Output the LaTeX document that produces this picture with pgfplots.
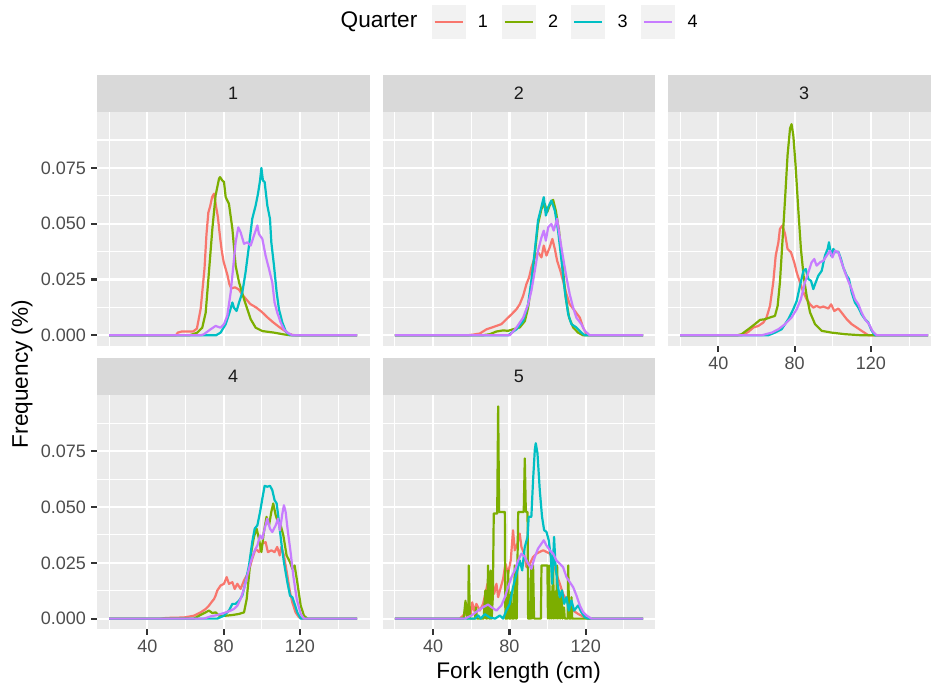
\documentclass[border=0pt]{standalone}
\usepackage{fontspec}
\setmainfont{Liberation Sans}
\usepackage{pgfplots}
\pgfplotsset{compat=1.18}
\definecolor{qa}{HTML}{F8766D}
\definecolor{qb}{HTML}{7CAE00}
\definecolor{qc}{HTML}{00BFC4}
\definecolor{qd}{HTML}{C77CFF}
\definecolor{panelbg}{HTML}{EBEBEB}
\definecolor{stripbg}{HTML}{D9D9D9}
\definecolor{keybg}{HTML}{F2F2F2}
\definecolor{ticklab}{HTML}{4D4D4D}
\definecolor{tickcol}{HTML}{333333}
\definecolor{striptext}{HTML}{1A1A1A}
\pgfplotsset{
  panel/.style={
    scale only axis, width=136.45pt, height=117.15pt,
    xmin=13.5, xmax=156.5, ymin=-0.0048, ymax=0.1002,
    axis background/.style={fill=panelbg},
    axis line style={draw=none},
    xtick={40,80,120}, minor xtick={20,60,100,140},
    ytick={0,0.025,0.05,0.075}, minor ytick={0.0125,0.0375,0.0625,0.0875},
    xticklabels={40,80,120},
    yticklabels={0.000,0.025,0.050,0.075},
    xtick pos=left, ytick pos=left,
    grid=both,
    major grid style={white, line width=1.1pt},
    minor grid style={white, line width=0.55pt},
    tick align=outside,
    major tick length=2.8pt, minor tick length=0pt,
    tick style={tickcol, line width=1.1pt},
    ticklabel style={font=\fontsize{9}{10}\selectfont, text=ticklab, inner sep=0pt},
    xticklabel shift=2.4pt, yticklabel shift=2.4pt,
    /pgf/number format/assume math mode=true,
    every axis plot/.append style={line width=1.1pt, line join=round, mark=none},
    anchor=north west,
  },
  noxaxis/.style={xticklabels={}, xtick style={draw=none}},
  noyaxis/.style={yticklabels={}, ytick style={draw=none}},
}
\newcommand{\strip}[3]{%
  \fill[stripbg] (#1pt,-#2pt) rectangle ++(136.45pt,18.6pt);
  \node[text=striptext, font=\fontsize{9}{10}\selectfont, inner sep=0pt] at (#1pt+68.225pt,-#2pt+9.3pt) {#3};
}
\begin{document}
\begin{tikzpicture}
\path[use as bounding box, fill=white] (0,0) rectangle (465.5pt,-343.5pt);
% legend
\node[font=\fontsize{11.3}{12}\selectfont, inner sep=0pt] at (189.5pt,-10.85pt) {Quarter};
\foreach \kx/\col/\lab in {215.85/qa/1,250.9/qb/2,285.65/qc/3,320.65/qd/4}{
  \fill[keybg] (\kx pt,-2.5pt) rectangle ++(17pt,-17pt);
  \draw[\col, line width=1.1pt] (\kx pt+1.5pt,-10.85pt) -- ++(14pt,0);
  \node[font=\fontsize{9}{10}\selectfont, inner sep=0pt] at (\kx pt+25.6pt,-10.85pt) {\lab};
}
% strips
\strip{48.35}{55.85}{1}
\strip{191.25}{55.85}{2}
\strip{333.85}{55.85}{3}
\strip{48.35}{197.5}{4}
\strip{191.25}{197.5}{5}
% axis titles
\node[rotate=90, font=\fontsize{11.3}{12}\selectfont, inner sep=0pt] at (11pt,-187pt) {Frequency (\%)};
\node[font=\fontsize{11.3}{12}\selectfont, inner sep=0pt] at (259.3pt,-336.5pt) {Fork length (cm)};

% ---------- Panel 1 ----------
\begin{axis}[panel, noxaxis, at={(48.35pt,-55.85pt)}]
\addplot[qa] coordinates {(20,0)(55,0)(56,0.0012)(58,0.0017)(64,0.0017)(66,0.003)(68,0.012)(70,0.03)(71,0.045)(72,0.055)(73,0.058)(74,0.062)(75,0.0635)(76,0.058)(77,0.053)(78,0.045)(79,0.038)(80,0.033)(82,0.027)(83,0.023)(84,0.021)(86,0.0215)(88,0.0205)(90,0.018)(92,0.016)(94,0.014)(97,0.0125)(100,0.0105)(103,0.008)(106,0.0058)(109,0.0038)(112,0.002)(114,0.0008)(116,0.0002)(118,0)(150,0)};
\addplot[qb] coordinates {(20,0)(62,0)(64,0.0005)(66.2,0.0012)(68.8,0.0034)(70.6,0.0101)(72.3,0.0282)(74.1,0.0477)(75.8,0.0627)(77.6,0.0702)(78.1,0.0709)(79.3,0.0694)(80.2,0.0687)(81.1,0.0619)(82.8,0.0589)(84.6,0.0477)(86.3,0.0312)(88.1,0.0237)(90.7,0.0162)(94.2,0.0072)(96.8,0.0034)(100.3,0.0019)(106.4,0.0012)(111.6,0.0004)(115,0)(150,0)};
\addplot[qc] coordinates {(20,0)(76,0)(78.4,0.0012)(81.1,0.005)(82.8,0.0094)(84.6,0.0147)(85.4,0.0124)(86.8,0.0109)(88.1,0.0147)(89.8,0.0192)(91.5,0.0282)(93.3,0.0402)(95,0.0522)(96.8,0.0582)(98,0.0634)(99.1,0.0694)(99.8,0.075)(100.6,0.0694)(101.5,0.0687)(102.9,0.0582)(104.3,0.0522)(105,0.0417)(106.4,0.0312)(107.8,0.0192)(109,0.0117)(110.8,0.0057)(112.5,0.0019)(114.2,0.0004)(116,0)(150,0)};
\addplot[qd] coordinates {(20,0)(68,0)(69.7,0.0005)(73.2,0.0027)(75.8,0.0042)(78.4,0.0034)(80.2,0.005)(81.9,0.0087)(83.7,0.0192)(85.1,0.0312)(86.3,0.0417)(87.7,0.0484)(88.9,0.0462)(90.7,0.041)(92.4,0.0417)(94.2,0.0402)(95.9,0.0447)(97.7,0.0492)(98.5,0.0454)(100.3,0.0432)(102,0.0357)(103.8,0.0297)(105.5,0.0237)(106.7,0.0147)(108.1,0.0102)(109.9,0.0057)(111.6,0.0027)(113.4,0.0012)(116,0)(150,0)};
\end{axis}

% ---------- Panel 2 ----------
\begin{axis}[panel, noxaxis, noyaxis, at={(191.25pt,-55.85pt)}]
\addplot[qa] coordinates {(20,0)(58,0)(61,0.0003)(64.5,0.0008)(68,0.0027)(71.5,0.0037)(75.8,0.005)(78.4,0.0072)(81.1,0.0094)(83.7,0.0117)(85.4,0.0139)(87.2,0.0177)(88.9,0.0229)(90.3,0.0259)(91.5,0.0304)(93.3,0.0349)(95,0.0372)(96.8,0.0349)(98,0.0402)(99.4,0.0357)(101.1,0.0394)(102.5,0.0432)(103.8,0.0387)(105,0.0334)(106.7,0.0289)(108.1,0.0244)(109.9,0.0184)(111.6,0.0139)(114.3,0.0109)(116.9,0.0079)(118.6,0.0035)(120.4,0.0005)(122,0)(150,0)};
\addplot[qb] coordinates {(20,0)(66,0)(69.7,0.0005)(73.2,0.0017)(76.7,0.0022)(79.3,0.002)(81.9,0.0027)(85.4,0.0035)(88.1,0.0064)(89.8,0.0124)(91.5,0.0229)(93.3,0.0364)(95,0.0499)(96.8,0.0567)(98.5,0.0589)(99.8,0.0552)(101.1,0.0582)(102.9,0.0607)(104.3,0.0559)(106,0.0469)(107.8,0.0319)(109.5,0.0169)(111.3,0.0079)(113.4,0.0035)(116,0.0012)(118.6,0)(150,0)};
\addplot[qc] coordinates {(20,0)(79.3,0)(83.7,0.0027)(87.2,0.0064)(89.8,0.0139)(91.5,0.0245)(93.3,0.0379)(95,0.0514)(96.3,0.0559)(98,0.0619)(99.1,0.0537)(100.3,0.0574)(102,0.0604)(103.8,0.0559)(105.5,0.0469)(107.3,0.0334)(109,0.02)(110.8,0.0094)(112.5,0.005)(115.1,0.0035)(117.7,0.0012)(119.5,0)(150,0)};
\addplot[qd] coordinates {(20,0)(80.2,0)(83.7,0.0035)(87.2,0.0079)(89.8,0.0139)(91.5,0.0199)(93.3,0.0289)(95,0.0379)(96.8,0.0439)(98,0.0469)(99.1,0.0424)(100.3,0.0484)(102,0.0499)(103.2,0.0469)(105,0.0522)(106.4,0.0439)(108.1,0.0349)(109.9,0.0259)(111.6,0.0184)(113.4,0.0124)(115.1,0.0079)(117.7,0.005)(119.5,0.002)(122.1,0)(150,0)};
\end{axis}

% ---------- Panel 3 ----------
\begin{axis}[panel, noyaxis, at={(333.85pt,-55.85pt)}]
\addplot[qa] coordinates {(20,0)(52.2,0)(55.7,0.0015)(58.4,0.0035)(61,0.0042)(63.6,0.0057)(65.3,0.008)(67.1,0.0132)(68.8,0.0237)(70.1,0.0357)(71.5,0.0417)(72.3,0.0477)(73.6,0.0492)(75,0.0454)(76.3,0.0387)(78.1,0.0372)(79.8,0.0327)(81.1,0.0282)(82.8,0.0237)(84.6,0.0192)(86.3,0.0162)(88.1,0.0139)(89.8,0.0124)(91.5,0.0132)(93.3,0.0124)(95,0.0129)(97.7,0.012)(99.1,0.0139)(100.8,0.0109)(102.9,0.012)(104.6,0.0102)(107.3,0.0072)(109.9,0.005)(112.5,0.0035)(115.1,0.002)(117.8,0.0005)(118.6,0)(150,0)};
\addplot[qb] coordinates {(20,0)(50,0)(52.2,0.0005)(55.7,0.0027)(59.2,0.005)(61.85,0.0069)(64.5,0.0072)(67.1,0.008)(69.7,0.0087)(71.1,0.0132)(72.3,0.0237)(73.6,0.0417)(75,0.0612)(76.3,0.0807)(77.6,0.0927)(78.4,0.0946)(79.3,0.0897)(80.5,0.0762)(81.9,0.0567)(83.3,0.0387)(84.7,0.0267)(86.3,0.0177)(88.1,0.0102)(90.7,0.005)(94.2,0.002)(99.4,0.0012)(106.4,0.0005)(115.1,0)(150,0)};
\addplot[qc] coordinates {(20,0)(66.2,0)(69.7,0.0012)(73.2,0.0027)(76.7,0.0072)(79.3,0.0117)(81.1,0.0154)(82.8,0.0222)(84.6,0.0289)(85.8,0.0297)(87.2,0.0252)(88.6,0.0244)(89.8,0.0207)(90.7,0.0229)(92.4,0.0267)(94.2,0.0289)(95.9,0.0357)(97.3,0.0387)(98,0.0417)(99.1,0.0357)(100.3,0.0387)(101.5,0.0372)(102.9,0.0375)(104.3,0.0342)(105.5,0.0304)(107.3,0.0267)(108.5,0.0252)(109.9,0.0192)(111.6,0.0147)(113.4,0.0124)(115.1,0.0094)(116.9,0.0072)(118.6,0.0057)(120.4,0.002)(122.1,0)(150,0)};
\addplot[qd] coordinates {(20,0)(62.7,0)(68,0.0012)(71.5,0.0027)(75,0.005)(78.4,0.008)(81.1,0.0117)(83.3,0.0162)(85.4,0.0237)(87.2,0.0282)(88.9,0.0327)(90.3,0.0342)(91.5,0.0312)(93.3,0.0327)(95,0.0334)(96.8,0.0357)(98.5,0.0379)(99.8,0.0349)(101.2,0.0379)(102.9,0.0372)(104.6,0.0327)(106.4,0.0282)(108.1,0.0244)(109.9,0.0207)(111.6,0.0162)(113.4,0.0139)(115.1,0.0102)(116.9,0.0072)(119,0.005)(120.7,0.002)(123,0)(150,0)};
\end{axis}

% ---------- Panel 4 ----------
\begin{axis}[panel, at={(48.35pt,-197.5pt)}]
\addplot[qa] coordinates {(20,0)(47,0)(50,0.0003)(59.2,0.0005)(64.5,0.0013)(68,0.0028)(70.6,0.0043)(72.3,0.0058)(73.6,0.0073)(75,0.0088)(75.8,0.0103)(76.7,0.0126)(78.4,0.0148)(80.2,0.0156)(81.6,0.0186)(82.8,0.0156)(84.6,0.0163)(85.8,0.0133)(87.2,0.0156)(88.9,0.0133)(90.7,0.0171)(92.1,0.0193)(93.3,0.0216)(95,0.0268)(96.8,0.0313)(98.5,0.0298)(100.3,0.0336)(102,0.0343)(103.2,0.0298)(105,0.0306)(106.7,0.0298)(108.1,0.0321)(109.4,0.0283)(110.2,0.0321)(111.6,0.0283)(113.4,0.0193)(114.8,0.0118)(116,0.0073)(117.7,0.0028)(119.5,0.0006)(121,0)(150,0)};
\addplot[qb] coordinates {(20,0)(64.5,0)(68,0.0017)(70.6,0.0028)(72.3,0.0036)(74.1,0.0025)(75.8,0.0028)(77.6,0.0013)(81.1,0.0013)(84.6,0.0016)(88.1,0.0021)(90.7,0.0028)(92.1,0.0088)(93.3,0.0193)(94.5,0.0298)(95.9,0.0366)(97.3,0.0403)(98.5,0.0358)(99.8,0.0298)(101.1,0.0388)(102.5,0.0456)(103.8,0.0418)(105,0.0478)(106,0.0516)(107.3,0.0463)(108.5,0.0433)(109.9,0.0418)(111.3,0.0373)(113,0.0283)(114.8,0.0253)(116,0.0223)(117.2,0.0238)(118.6,0.0163)(120.4,0.0058)(122.1,0.0013)(123.9,0)(150,0)};
\addplot[qc] coordinates {(20,0)(76.7,0)(80.2,0.0013)(82.8,0.0036)(84.6,0.0066)(86.3,0.0066)(88.1,0.0081)(89.8,0.0103)(91.5,0.0163)(93.3,0.0238)(95,0.0343)(96.3,0.0403)(97.7,0.0418)(99.1,0.0478)(100.3,0.0538)(101.5,0.0595)(102.9,0.0591)(104.3,0.0595)(105.5,0.0576)(106.7,0.0531)(107.8,0.0516)(109,0.0433)(110.2,0.0343)(111.6,0.0253)(113.4,0.0163)(114.8,0.0103)(116,0.0096)(117.2,0.0066)(118.6,0.0028)(120.4,0)(150,0)};
\addplot[qd] coordinates {(20,0)(69.7,0)(73.2,0.001)(76.7,0.0016)(80.2,0.0025)(83.7,0.0036)(85.4,0.0043)(87.2,0.0058)(88.9,0.0088)(90.7,0.0133)(92.4,0.0193)(94.2,0.0253)(95.9,0.0298)(97.7,0.0328)(99.1,0.0373)(100.3,0.0358)(101.5,0.0403)(102.9,0.0448)(104.3,0.0403)(105.5,0.0388)(107.3,0.0418)(108.5,0.0448)(109.5,0.0396)(110.8,0.0471)(111.6,0.0508)(112.5,0.0478)(113.7,0.0388)(115.1,0.0298)(116.5,0.0193)(118.3,0.0088)(120.4,0.0021)(122.1,0)(150,0)};
\end{axis}

% ---------- Panel 5 ----------
\begin{axis}[panel, noyaxis, at={(191.25pt,-197.5pt)}]
\addplot[qa] coordinates {(20,0)(54,0)(56.6,0.002)(58.4,0.0066)(59.5,0.001)(60.5,0.0073)(61.5,0.0035)(62.7,0.0066)(64.5,0.0036)(66.2,0.0066)(67.4,0.0111)(68.5,0.0156)(69.7,0.0141)(70.9,0.0178)(72,0.0111)(73.2,0.0156)(74.1,0.0096)(75.5,0.0141)(76.7,0.0178)(77.9,0.0246)(79.3,0.0201)(80.7,0.0261)(81.9,0.0396)(82.8,0.0306)(84.2,0.0336)(85.4,0.0381)(86.3,0.0321)(87.7,0.0291)(88.9,0.0231)(90.7,0.0246)(92.4,0.0276)(94.2,0.0291)(95.9,0.0299)(97.7,0.0306)(99.4,0.0299)(101.2,0.0291)(102.9,0.0261)(104.6,0.0201)(106.4,0.0156)(108.1,0.0111)(109.9,0.0081)(111.6,0.0059)(113.4,0.0036)(116,0.0021)(118.6,0.0009)(121.2,0)(150,0)};
\addplot[qb] coordinates {(20,0)(56,0)(57,0.008)(57.8,0)(58.4,0)(58.7,0.0238)(59.3,0)(62,0)(62.5,0.005)(63,0)(66.5,0)(67.4,0.0126)(67.8,0)(68.4,0)(68.8,0.0238)(69.3,0)(70,0)(70.2,0.0216)(70.7,0)(71.3,0.0096)(71.8,0.0471)(73.6,0.0471)(74.1,0.0951)(74.6,0.0478)(77.6,0.0478)(77.9,0)(79,0)(79.4,0.0216)(79.8,0)(80.6,0)(81,0.012)(81.4,0)(82.4,0)(82.8,0.0238)(83.3,0)(83.8,0)(84.2,0.0238)(84.6,0.0478)(87.5,0.0478)(88.05,0.0718)(88.6,0.0478)(89.5,0.0478)(89.8,0)(91,0)(91.3,0.0238)(91.8,0)(92.4,0.0238)(92.9,0)(96.5,0)(96.8,0.0238)(99.9,0.0238)(100.2,0)(100.8,0.0238)(101.2,0)(101.8,0.012)(102.2,0)(102.9,0.0238)(103.3,0)(104,0.012)(104.4,0)(105,0.0238)(105.4,0)(106.2,0.0096)(106.6,0)(107.4,0.0126)(107.8,0)(108.6,0.005)(109,0)(110.5,0)(110.8,0.0238)(111.3,0)(112.2,0)(112.5,0.0096)(112.9,0)(150,0)};
\addplot[qc] coordinates {(20,0)(61.9,0)(63.6,0.0014)(65,0)(67.1,0.002)(69.7,0.0005)(72.5,0)(75,0.0014)(76.7,0)(78.4,0.0036)(80.2,0.0066)(81.9,0.0141)(83.7,0.0201)(85.4,0.0261)(86.7,0.0216)(88.05,0.0321)(89.5,0.0366)(90.1,0.0456)(91.5,0.0456)(92.4,0.0621)(93.3,0.0756)(93.8,0.0786)(94.7,0.0741)(95.9,0.0576)(97.1,0.0456)(98.2,0.0396)(99.4,0.0389)(100.6,0.0351)(101.7,0.0276)(102.4,0.0156)(103.4,0.0366)(104.1,0.0246)(105.2,0.0156)(106.4,0.0096)(107.6,0.0126)(108.7,0.0066)(109.9,0.0096)(111.1,0.0036)(112.5,0.0081)(113.9,0.0036)(116,0.0059)(117.7,0.0029)(119.5,0.0006)(121.2,0)(150,0)};
\addplot[qd] coordinates {(20,0)(56.6,0)(60.1,0.0014)(63.6,0.0036)(66.2,0.0051)(68.8,0.0063)(70.6,0.0051)(73.2,0.0036)(75.8,0.0059)(77.6,0.0096)(79.3,0.0141)(81.1,0.0186)(82.8,0.0216)(84.6,0.0261)(86.3,0.0291)(88.1,0.0276)(89.8,0.0246)(91.5,0.0223)(93.3,0.0276)(95,0.0314)(96.8,0.0336)(98,0.0351)(99.4,0.0328)(101.2,0.0306)(102.9,0.0291)(104.6,0.0261)(106.4,0.0246)(108.1,0.0231)(109.9,0.0186)(111.6,0.0164)(113.4,0.0141)(115.1,0.0104)(116.9,0.0059)(118.6,0.0029)(120.4,0.0014)(123,0)(150,0)};
\end{axis}
\end{tikzpicture}
\end{document}
